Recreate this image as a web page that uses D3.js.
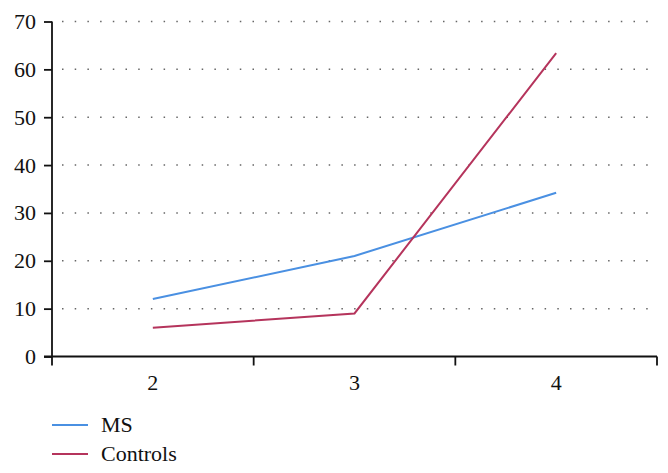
<!DOCTYPE html>
<html>
<head>
<meta charset="utf-8">
<script src="https://cdn.jsdelivr.net/npm/d3@7"></script>
<style>
  body { margin: 0; background: #fff; }
</style>
</head>
<body>
<svg id="chart"></svg>
<script>
const categories = ['2', '3', '4'];
const msValues = [12, 21, 34.2];
const controlValues = [6, 9, 63.4];
const yTicks = [0, 10, 20, 30, 40, 50, 60, 70];

const series = [
  { name: 'MS', values: msValues, color: '#4a90e2' },
  { name: 'Controls', values: controlValues, color: '#b5345c' }
];

const font = '"Liberation Serif", "Times New Roman", "DejaVu Serif", serif';

const svg = d3.select('#chart')
  .attr('width', 668)
  .attr('height', 473);

const margin = { top: 21.5, right: 11, bottom: 116.5, left: 52 };
const width = 668 - margin.left - margin.right;
const height = 473 - margin.top - margin.bottom;

const x = d3.scaleBand()
  .domain(categories)
  .range([0, width]);

const y = d3.scaleLinear()
  .domain([0, 70])
  .range([height, 0]);

const g = svg.append('g')
  .attr('transform', `translate(${margin.left},${margin.top})`);

// dotted grid lines
g.append('g')
  .selectAll('line')
  .data(yTicks.filter(d => d > 0))
  .enter()
  .append('line')
  .attr('x1', 10)
  .attr('x2', width - 2)
  .attr('y1', d => y(d))
  .attr('y2', d => y(d))
  .attr('stroke', '#666')
  .attr('stroke-width', 1.5)
  .attr('stroke-dasharray', '1.5,11.2');

// y axis
const yAxis = d3.axisLeft(y)
  .tickValues(yTicks)
  .tickSize(8)
  .tickSizeOuter(0)
  .tickPadding(8);

g.append('g')
  .attr('class', 'y-axis')
  .call(yAxis)
  .call(a => a.select('.domain').attr('d', `M0,0V${height + 9}`).attr('stroke', '#111').attr('stroke-width', 1.8))
  .call(a => a.selectAll('.tick line').attr('stroke', '#111').attr('stroke-width', 1.8))
  .selectAll('text')
  .style('font-family', font)
  .style('fill', '#111')
  .style('font-size', '22px');

// x axis
const xAxis = d3.axisBottom(x)
  .tickSize(0)
  .tickSizeOuter(0)
  .tickPadding(18);

g.append('g')
  .attr('class', 'x-axis')
  .attr('transform', `translate(0,${height})`)
  .call(xAxis)
  .call(a => a.select('.domain').attr('d', `M-8,0H${width}`).attr('stroke', '#111').attr('stroke-width', 1.8))
  .call(a => a.selectAll('text').style('font-family', font).style('fill', '#111').style('font-size', '22px'));

// tick marks at band edges
g.append('g')
  .selectAll('line')
  .data(categories.slice(1).map(d => x(d)).concat([width]))
  .enter()
  .append('line')
  .attr('x1', d => d)
  .attr('x2', d => d)
  .attr('y1', height)
  .attr('y2', height + 9)
  .attr('stroke', '#111')
  .attr('stroke-width', 1.8);

// lines
const line = d3.line()
  .x((d, i) => x(categories[i]) + x.bandwidth() / 2)
  .y(d => y(d));

g.selectAll('.series')
  .data(series)
  .enter()
  .append('path')
  .attr('class', 'series')
  .attr('d', d => line(d.values))
  .attr('fill', 'none')
  .attr('stroke', d => d.color)
  .attr('stroke-width', 2);

// legend
const legend = svg.append('g')
  .attr('transform', 'translate(52,425)');

const items = legend.selectAll('g')
  .data(series)
  .enter()
  .append('g')
  .attr('transform', (d, i) => `translate(0,${i * 29})`);

items.append('line')
  .attr('x1', 0)
  .attr('x2', 36)
  .attr('stroke', d => d.color)
  .attr('stroke-width', 2);

items.append('text')
  .attr('x', 49)
  .attr('y', 7)
  .text(d => d.name)
  .style('font-family', font)
  .style('fill', '#111')
  .style('font-size', '22px');
</script>
</body>
</html>
